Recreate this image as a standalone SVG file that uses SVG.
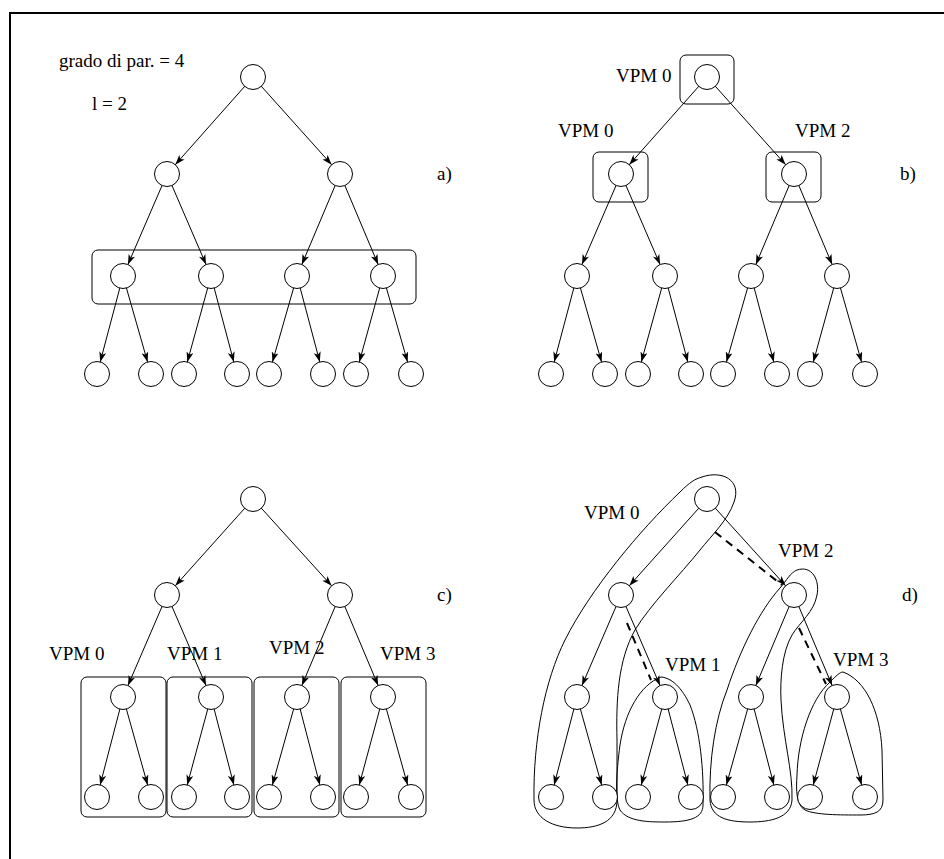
<svg xmlns="http://www.w3.org/2000/svg" width="944" height="859" viewBox="0 0 944 859">
<style>
.n{fill:#fff;stroke:#000;stroke-width:1}
.e{stroke:#000;stroke-width:1;fill:none;marker-end:url(#ah)}
.d{stroke:#000;stroke-width:2;fill:none;stroke-dasharray:8 6}
.g{fill:none;stroke:#000;stroke-width:1}
text{font-family:"Liberation Serif","Times New Roman",serif;font-size:19px;fill:#000}
</style>
<defs>
<marker id="ah" viewBox="0 0 22.5 7" markerWidth="22.5" markerHeight="7" refX="22.5" refY="3.5" orient="auto" markerUnits="userSpaceOnUse">
<path d="M0,0 L10,3.5 L0,7 L2.5,3.5 Z" fill="#000"/>
</marker>
</defs>
<rect width="944" height="859" fill="#fff"/>
<path d="M10,859 V13 H944" fill="none" stroke="#000" stroke-width="2"/>

<g id="groups">
<rect class="g" x="92" y="250" width="324" height="54" rx="6"/>
<rect class="g" x="680" y="55" width="54" height="49" rx="6"/>
<rect class="g" x="593" y="152" width="55" height="50" rx="6"/>
<rect class="g" x="766" y="152" width="55" height="50" rx="6"/>
<rect class="g" x="81" y="677" width="85" height="140" rx="6"/>
<rect class="g" x="167" y="677" width="85" height="140" rx="6"/>
<rect class="g" x="254" y="677" width="85" height="140" rx="6"/>
<rect class="g" x="341" y="677" width="85" height="140" rx="6"/>
<path class="g" d="M702,477 C722,470 742,480 734,502 C728,520 712,535 700,550 C680,575 650,605 635,630 C618,660 616,700 617,740 L617,800 C617,822 598,828 577,828 C552,828 534,818 534,800 C533,740 545,680 565,640 C590,590 640,530 680,492 C690,482 695,479 702,477 Z"/>
<path class="g" d="M661,677 C640,685 625,712 620,745 C616,775 615,800 620,810 C628,822 650,822 665,822 C690,822 703,818 703,805 C704,770 700,730 690,705 C682,688 672,678 661,677 Z"/>
<path class="g" d="M797,570 C812,565 820,580 817,595 C814,612 800,622 792,635 C782,652 780,680 781,700 C783,740 793,770 792,800 C791,818 770,822 750,822 C728,822 711,818 710,800 C709,760 715,720 727,690 C740,650 760,610 780,588 C787,580 790,573 797,570 Z"/>
<path class="g" d="M843,672 C865,680 880,710 882,750 L883,800 C883,812 875,815 860,815 C840,815 815,815 805,810 C796,805 796,790 797,775 C798,740 810,700 830,682 C836,676 840,672 843,672 Z"/>
</g>

<g id="connectors">
<!-- panel a -->
<line class="e" x1="253" y1="77" x2="167" y2="174"/>
<line class="e" x1="253" y1="77" x2="340" y2="174"/>
<line class="e" x1="167" y1="174" x2="123" y2="276"/>
<line class="e" x1="167" y1="174" x2="211" y2="276"/>
<line class="e" x1="340" y1="174" x2="297" y2="276"/>
<line class="e" x1="340" y1="174" x2="383" y2="276"/>
<line class="e" x1="123" y1="276" x2="97" y2="374"/>
<line class="e" x1="123" y1="276" x2="151" y2="374"/>
<line class="e" x1="211" y1="276" x2="184" y2="374"/>
<line class="e" x1="211" y1="276" x2="237" y2="374"/>
<line class="e" x1="297" y1="276" x2="269" y2="374"/>
<line class="e" x1="297" y1="276" x2="323" y2="374"/>
<line class="e" x1="383" y1="276" x2="356" y2="374"/>
<line class="e" x1="383" y1="276" x2="411" y2="374"/>
<!-- panel b -->
<line class="e" x1="707" y1="77" x2="621" y2="174"/>
<line class="e" x1="707" y1="77" x2="794" y2="174"/>
<line class="e" x1="621" y1="174" x2="577" y2="276"/>
<line class="e" x1="621" y1="174" x2="665" y2="276"/>
<line class="e" x1="794" y1="174" x2="751" y2="276"/>
<line class="e" x1="794" y1="174" x2="837" y2="276"/>
<line class="e" x1="577" y1="276" x2="551" y2="374"/>
<line class="e" x1="577" y1="276" x2="605" y2="374"/>
<line class="e" x1="665" y1="276" x2="638" y2="374"/>
<line class="e" x1="665" y1="276" x2="691" y2="374"/>
<line class="e" x1="751" y1="276" x2="723" y2="374"/>
<line class="e" x1="751" y1="276" x2="777" y2="374"/>
<line class="e" x1="837" y1="276" x2="810" y2="374"/>
<line class="e" x1="837" y1="276" x2="865" y2="374"/>
<!-- panel c -->
<line class="e" x1="253" y1="499" x2="167" y2="595"/>
<line class="e" x1="253" y1="499" x2="340" y2="595"/>
<line class="e" x1="167" y1="595" x2="123" y2="697"/>
<line class="e" x1="167" y1="595" x2="211" y2="697"/>
<line class="e" x1="340" y1="595" x2="297" y2="697"/>
<line class="e" x1="340" y1="595" x2="383" y2="697"/>
<line class="e" x1="123" y1="697" x2="97" y2="797"/>
<line class="e" x1="123" y1="697" x2="151" y2="797"/>
<line class="e" x1="211" y1="697" x2="184" y2="797"/>
<line class="e" x1="211" y1="697" x2="237" y2="797"/>
<line class="e" x1="297" y1="697" x2="269" y2="797"/>
<line class="e" x1="297" y1="697" x2="323" y2="797"/>
<line class="e" x1="383" y1="697" x2="356" y2="797"/>
<line class="e" x1="383" y1="697" x2="411" y2="797"/>
<!-- panel d -->
<line class="e" x1="707" y1="499" x2="621" y2="595"/>
<line class="e" x1="707" y1="499" x2="794" y2="595"/>
<line class="e" x1="621" y1="595" x2="577" y2="697"/>
<line class="e" x1="621" y1="595" x2="665" y2="697"/>
<line class="e" x1="794" y1="595" x2="751" y2="697"/>
<line class="e" x1="794" y1="595" x2="837" y2="697"/>
<line class="e" x1="577" y1="697" x2="551" y2="797"/>
<line class="e" x1="577" y1="697" x2="605" y2="797"/>
<line class="e" x1="665" y1="697" x2="638" y2="797"/>
<line class="e" x1="665" y1="697" x2="691" y2="797"/>
<line class="e" x1="751" y1="697" x2="723" y2="797"/>
<line class="e" x1="751" y1="697" x2="777" y2="797"/>
<line class="e" x1="837" y1="697" x2="810" y2="797"/>
<line class="e" x1="837" y1="697" x2="865" y2="797"/>
<line class="d" x1="715" y1="532" x2="782" y2="585"/>
<line class="d" x1="627" y1="623" x2="651" y2="680"/>
<line class="d" x1="799" y1="628" x2="826" y2="684"/>
</g>

<g id="nodes">
<g id="a-r"><circle class="n" cx="253" cy="77" r="12.5"/></g>
<g id="a-1"><circle class="n" cx="167" cy="174" r="12.5"/></g>
<g id="a-2"><circle class="n" cx="340" cy="174" r="12.5"/></g>
<g id="a-11"><circle class="n" cx="123" cy="276" r="12.5"/></g>
<g id="a-12"><circle class="n" cx="211" cy="276" r="12.5"/></g>
<g id="a-21"><circle class="n" cx="297" cy="276" r="12.5"/></g>
<g id="a-22"><circle class="n" cx="383" cy="276" r="12.5"/></g>
<g id="a-l1"><circle class="n" cx="97" cy="374" r="12.5"/></g>
<g id="a-l2"><circle class="n" cx="151" cy="374" r="12.5"/></g>
<g id="a-l3"><circle class="n" cx="184" cy="374" r="12.5"/></g>
<g id="a-l4"><circle class="n" cx="237" cy="374" r="12.5"/></g>
<g id="a-l5"><circle class="n" cx="269" cy="374" r="12.5"/></g>
<g id="a-l6"><circle class="n" cx="323" cy="374" r="12.5"/></g>
<g id="a-l7"><circle class="n" cx="356" cy="374" r="12.5"/></g>
<g id="a-l8"><circle class="n" cx="411" cy="374" r="12.5"/></g>

<g id="b-r"><circle class="n" cx="707" cy="77" r="12.5"/></g>
<g id="b-1"><circle class="n" cx="621" cy="174" r="12.5"/></g>
<g id="b-2"><circle class="n" cx="794" cy="174" r="12.5"/></g>
<g id="b-11"><circle class="n" cx="577" cy="276" r="12.5"/></g>
<g id="b-12"><circle class="n" cx="665" cy="276" r="12.5"/></g>
<g id="b-21"><circle class="n" cx="751" cy="276" r="12.5"/></g>
<g id="b-22"><circle class="n" cx="837" cy="276" r="12.5"/></g>
<g id="b-l1"><circle class="n" cx="551" cy="374" r="12.5"/></g>
<g id="b-l2"><circle class="n" cx="605" cy="374" r="12.5"/></g>
<g id="b-l3"><circle class="n" cx="638" cy="374" r="12.5"/></g>
<g id="b-l4"><circle class="n" cx="691" cy="374" r="12.5"/></g>
<g id="b-l5"><circle class="n" cx="723" cy="374" r="12.5"/></g>
<g id="b-l6"><circle class="n" cx="777" cy="374" r="12.5"/></g>
<g id="b-l7"><circle class="n" cx="810" cy="374" r="12.5"/></g>
<g id="b-l8"><circle class="n" cx="865" cy="374" r="12.5"/></g>

<g id="c-r"><circle class="n" cx="253" cy="499" r="12.5"/></g>
<g id="c-1"><circle class="n" cx="167" cy="595" r="12.5"/></g>
<g id="c-2"><circle class="n" cx="340" cy="595" r="12.5"/></g>
<g id="c-11"><circle class="n" cx="123" cy="697" r="12.5"/></g>
<g id="c-12"><circle class="n" cx="211" cy="697" r="12.5"/></g>
<g id="c-21"><circle class="n" cx="297" cy="697" r="12.5"/></g>
<g id="c-22"><circle class="n" cx="383" cy="697" r="12.5"/></g>
<g id="c-l1"><circle class="n" cx="97" cy="797" r="12.5"/></g>
<g id="c-l2"><circle class="n" cx="151" cy="797" r="12.5"/></g>
<g id="c-l3"><circle class="n" cx="184" cy="797" r="12.5"/></g>
<g id="c-l4"><circle class="n" cx="237" cy="797" r="12.5"/></g>
<g id="c-l5"><circle class="n" cx="269" cy="797" r="12.5"/></g>
<g id="c-l6"><circle class="n" cx="323" cy="797" r="12.5"/></g>
<g id="c-l7"><circle class="n" cx="356" cy="797" r="12.5"/></g>
<g id="c-l8"><circle class="n" cx="411" cy="797" r="12.5"/></g>

<g id="d-r"><circle class="n" cx="707" cy="499" r="12.5"/></g>
<g id="d-1"><circle class="n" cx="621" cy="595" r="12.5"/></g>
<g id="d-2"><circle class="n" cx="794" cy="595" r="12.5"/></g>
<g id="d-11"><circle class="n" cx="577" cy="697" r="12.5"/></g>
<g id="d-12"><circle class="n" cx="665" cy="697" r="12.5"/></g>
<g id="d-21"><circle class="n" cx="751" cy="697" r="12.5"/></g>
<g id="d-22"><circle class="n" cx="837" cy="697" r="12.5"/></g>
<g id="d-l1"><circle class="n" cx="551" cy="797" r="12.5"/></g>
<g id="d-l2"><circle class="n" cx="605" cy="797" r="12.5"/></g>
<g id="d-l3"><circle class="n" cx="638" cy="797" r="12.5"/></g>
<g id="d-l4"><circle class="n" cx="691" cy="797" r="12.5"/></g>
<g id="d-l5"><circle class="n" cx="723" cy="797" r="12.5"/></g>
<g id="d-l6"><circle class="n" cx="777" cy="797" r="12.5"/></g>
<g id="d-l7"><circle class="n" cx="810" cy="797" r="12.5"/></g>
<g id="d-l8"><circle class="n" cx="865" cy="797" r="12.5"/></g>
</g>

<g id="labels">
<text x="59" y="67">grado di par. = 4</text>
<text x="92" y="110">l = 2</text>
<text x="437" y="180">a)</text>
<text x="900" y="180">b)</text>
<text x="437" y="601">c)</text>
<text x="902" y="601">d)</text>
<text x="616" y="82">VPM 0</text>
<text x="558" y="137">VPM 0</text>
<text x="795" y="137">VPM 2</text>
<text x="49" y="660">VPM 0</text>
<text x="167" y="660">VPM 1</text>
<text x="269" y="654">VPM 2</text>
<text x="380" y="660">VPM 3</text>
<text x="584" y="519">VPM 0</text>
<text x="778" y="557">VPM 2</text>
<text x="665" y="671">VPM 1</text>
<text x="833" y="666">VPM 3</text>
</g>
</svg>
